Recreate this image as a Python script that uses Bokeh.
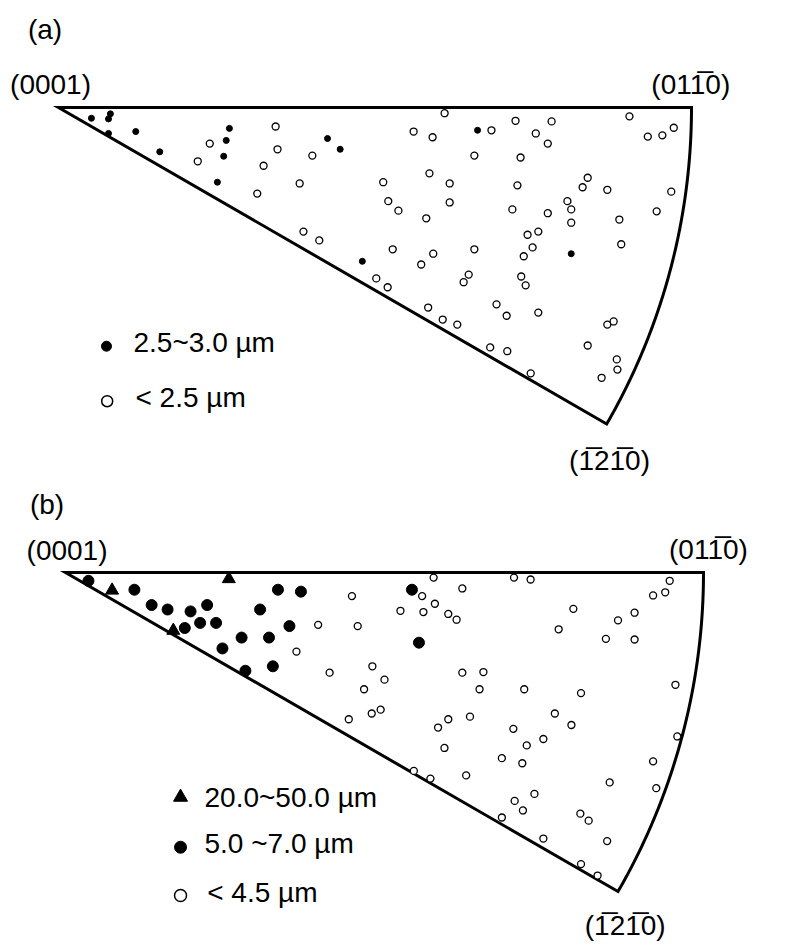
import numpy as np
from bokeh.plotting import figure
from bokeh.layouts import column
from bokeh.models import Range1d
from bokeh.core.properties import value
from bokeh.embed import file_html
from bokeh.resources import INLINE

# ---------------- data (sector coordinates: x along (0001)->(01-10) edge,
# y measured perpendicular into the sector, radius 1 = outer arc) ----------
# Panel (a)
a_big_x = [0.052, 0.082, 0.079, 0.079, 0.122, 0.160, 0.270, 0.265, 0.261, 0.251,
           0.425, 0.445, 0.480, 0.662, 0.810]
a_big_y = [0.017, 0.010, 0.018, 0.041, 0.038, 0.070, 0.033, 0.052, 0.077, 0.118,
           0.049, 0.066, 0.243, 0.036, 0.231]
a_small_x = [0.343, 0.239, 0.346, 0.220, 0.324, 0.401, 0.381, 0.314, 0.513, 0.521,
             0.537, 0.610, 0.561, 0.591, 0.684, 0.722, 0.779, 0.754, 0.773, 0.657,
             0.730, 0.902, 0.931, 0.954, 0.972, 0.586, 0.618, 0.725, 0.836, 0.828,
             0.867, 0.968, 0.618, 0.581, 0.717, 0.773, 0.804, 0.810, 0.810, 0.886,
             0.945, 0.741, 0.758, 0.528, 0.592, 0.573, 0.657, 0.735, 0.749, 0.889,
             0.648, 0.731, 0.520, 0.640, 0.738, 0.584, 0.607, 0.630, 0.692, 0.708,
             0.758, 0.867, 0.877, 0.836, 0.682, 0.709, 0.746, 0.882, 0.883, 0.858,
             0.387, 0.412, 0.502]
a_small_y = [0.030, 0.057, 0.066, 0.085, 0.092, 0.076, 0.120, 0.136, 0.118, 0.148,
             0.163, 0.009, 0.038, 0.047, 0.036, 0.021, 0.022, 0.041, 0.057, 0.076,
             0.079, 0.014, 0.046, 0.044, 0.032, 0.104, 0.120, 0.123, 0.111, 0.126,
             0.130, 0.133, 0.150, 0.175, 0.161, 0.167, 0.148, 0.161, 0.182, 0.177,
             0.164, 0.201, 0.196, 0.224, 0.231, 0.248, 0.224, 0.235, 0.221, 0.216,
             0.264, 0.267, 0.284, 0.276, 0.281, 0.316, 0.335, 0.343, 0.311, 0.329,
             0.324, 0.343, 0.338, 0.376, 0.379, 0.385, 0.420, 0.398, 0.414, 0.427,
             0.196, 0.210, 0.270]

# Panel (b)
b_tri_x = [0.256, 0.073, 0.169]
b_tri_y = [0.010, 0.028, 0.091]
b_mid_x = [0.036, 0.108, 0.135, 0.160, 0.196, 0.222, 0.211, 0.236, 0.187, 0.305,
           0.333, 0.369, 0.351, 0.276, 0.319, 0.246, 0.325, 0.282, 0.543, 0.554]
b_mid_y = [0.013, 0.027, 0.051, 0.058, 0.061, 0.051, 0.079, 0.079, 0.087, 0.058,
           0.027, 0.030, 0.084, 0.102, 0.102, 0.119, 0.147, 0.154, 0.027, 0.110]
b_small_x = [0.449, 0.396, 0.458, 0.362, 0.481, 0.414, 0.500, 0.468, 0.622, 0.655,
             0.649, 0.444, 0.480, 0.494, 0.584, 0.600, 0.634, 0.594, 0.546, 0.572,
             0.628, 0.684, 0.719, 0.808, 0.956, 0.767, 0.793, 0.702, 0.959, 0.723,
             0.749, 0.716, 0.921, 0.853, 0.926, 0.735, 0.704, 0.717, 0.684, 0.807,
             0.820, 0.849, 0.749, 0.808, 0.834, 0.577, 0.703, 0.729, 0.559, 0.622,
             0.579, 0.525, 0.561, 0.600, 0.613, 0.796, 0.773, 0.866, 0.892, 0.847,
             0.892, 0.947, 0.921, 0.940]
b_small_y = [0.037, 0.082, 0.084, 0.124, 0.147, 0.157, 0.168, 0.183, 0.157, 0.156,
             0.183, 0.230, 0.221, 0.215, 0.243, 0.230, 0.226, 0.275, 0.311, 0.323,
             0.318, 0.291, 0.183, 0.189, 0.176, 0.221, 0.239, 0.245, 0.257, 0.271,
             0.261, 0.299, 0.296, 0.329, 0.338, 0.347, 0.358, 0.373, 0.384, 0.378,
             0.389, 0.421, 0.417, 0.457, 0.475, 0.008, 0.008, 0.011, 0.037, 0.025,
             0.049, 0.060, 0.062, 0.065, 0.074, 0.057, 0.089, 0.075, 0.063, 0.104,
             0.105, 0.013, 0.036, 0.031]

pole_labels = ["(0001)", "(011\u03050)", "(1\u030521\u03050)"]
panel_tags = ["(a)", "(b)"]
legend_a = ["2.5~3.0 \u00b5m", "< 2.5 \u00b5m"]
legend_b = ["20.0~50.0 \u00b5m", "5.0 ~7.0 \u00b5m", "< 4.5 \u00b5m"]
SECTOR_DEG = 30.0

FONT = value("Liberation Sans")
FS = "28px"
W = 780
TEXT_SHIFT_PX = -10


def make_panel(width, height, vx, vy, R):
    p = figure(width=width, height=height,
               x_range=Range1d(-vx / R, (width - vx) / R),
               y_range=Range1d((height - vy) / R, -vy / R),
               output_backend="svg", toolbar_location=None,
               x_axis_type=None, y_axis_type=None, min_border=0,
               outline_line_color=None, background_fill_color="white",
               border_fill_color="white")
    p.grid.visible = False
    th = np.linspace(0, np.radians(SECTOR_DEG), 120)
    xs = [0.0] + list(np.cos(th))
    ys = [0.0] + list(np.sin(th))
    p.patch(xs, ys, fill_color=None, line_color="black", line_width=3,
            line_join="miter")
    return p


def add_text(p, x, y, txt, align="center"):
    p.text(x=[x], y=[y], text=[txt], text_font=FONT, text_font_size=FS,
           text_align=align, text_baseline="alphabetic", text_color="black",
           y_offset=TEXT_SHIFT_PX)


# ---------------- panel (a) ----------------
pa = make_panel(W, 480, 58, 107, 633)
pa.scatter(a_small_x, a_small_y, marker="circle", size=7, fill_color="white",
           line_color="black", line_width=1.3)
pa.scatter(a_big_x, a_big_y, marker="circle", size=6, fill_color="black",
           line_color="black")
add_text(pa, -0.0213, -0.1068, panel_tags[0])
add_text(pa, -0.0126, -0.021, pole_labels[0])
add_text(pa, 0.9989, -0.021, pole_labels[1])
add_text(pa, 0.8705, 0.5735, pole_labels[2])
pa.scatter([0.0758], [0.3771], marker="circle", size=10, fill_color="black",
           line_color="black")
pa.scatter([0.0769], [0.4640], marker="circle", size=11, fill_color="white",
           line_color="black", line_width=1.5)
add_text(pa, 0.1185, 0.3866, legend_a[0], "left")
add_text(pa, 0.1216, 0.4735, legend_a[1], "left")

# ---------------- panel (b) ----------------
pb = make_panel(W, 465, 65, 92, 638)
pb.scatter(b_small_x, b_small_y, marker="circle", size=7, fill_color="white",
           line_color="black", line_width=1.3)
pb.scatter(b_mid_x, b_mid_y, marker="circle", size=11, fill_color="black",
           line_color="black")
pb.scatter(b_tri_x, b_tri_y, marker="triangle", size=13, fill_color="black",
           line_color="black")
add_text(pb, -0.029, -0.0903, panel_tags[1])
add_text(pb, 0.0024, -0.0188, pole_labels[0])
add_text(pb, 1.0078, -0.0199, pole_labels[1])
add_text(pb, 0.8773, 0.569, pole_labels[2])
pb.scatter([0.1803], [0.3522], marker="triangle", size=14, fill_color="black",
           line_color="black")
pb.scatter([0.1803], [0.4306], marker="circle", size=12, fill_color="black",
           line_color="black")
pb.scatter([0.1803], [0.5063], marker="circle", size=12, fill_color="white",
           line_color="black", line_width=1.5)
add_text(pb, 0.2179, 0.3679, legend_b[0], "left")
add_text(pb, 0.2179, 0.4409, legend_b[1], "left")
add_text(pb, 0.2221, 0.5168, legend_b[2], "left")

layout = column(pa, pb, spacing=0)
open("out.html", "w").write(file_html(layout, INLINE))
